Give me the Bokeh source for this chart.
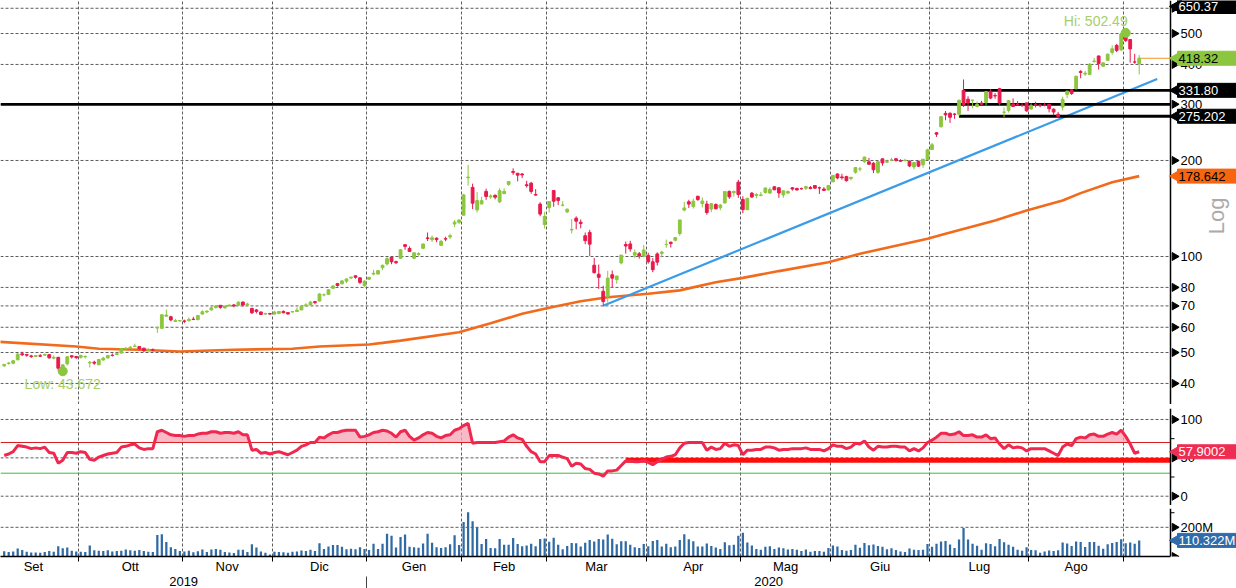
import numpy as np
import pandas as pd
from bokeh.plotting import figure
from bokeh.models import ColumnDataSource, FixedTicker, LinearAxis, Range1d, Grid
from bokeh.layouts import column
from bokeh.core.properties import value
from bokeh.embed import file_html
from bokeh.resources import INLINE

# ------------------------------------------------------------------ data
START = "2019-09-06"
HOLIDAYS = ["2019-09-02", "2019-11-28", "2019-12-25", "2020-01-01", "2020-01-20",
            "2020-02-17", "2020-04-10", "2020-05-25", "2020-07-03", "2020-09-07"]
MONTH_LABELS = ["Set", "Ott", "Nov", "Dic", "Gen", "Feb", "Mar", "Apr", "Mag", "Giu", "Lug", "Ago"]
YEAR_LABELS = ["2019", "2020"]

OPEN = [45.44, 46.20, 46.28, 47.44, 49.54, 49.31, 48.80, 48.59, 48.86, 49.07, 49.24, 48.00, 48.30, 44.91, 46.08, 48.84, 48.60,
        48.30, 48.46, 46.37, 46.64, 45.76, 47.36, 48.06, 49.00, 49.27, 49.80, 51.30, 51.70, 52.30, 52.20, 51.60, 50.80, 50.96, 59.67, 59.54, 65.00, 64.72, 62.60, 62.80,
        62.80, 62.90, 63.60, 63.40, 66.00, 67.00, 68.00, 69.20, 70.30, 69.00, 70.00, 70.50, 70.30, 72.00, 70.60, 68.80, 68.00, 67.00, 66.00, 66.30,
        66.00, 66.30, 67.30, 66.70, 67.00, 67.20, 68.00, 70.00, 70.50, 72.20, 72.50, 75.80, 76.10, 79.50, 82.20, 82.10, 83.67, 85.58, 87.00, 85.76, 81.00,
        84.90, 88.10, 88.09, 92.28, 94.74, 99.42, 96.36, 98.70, 108.85, 105.95, 98.75, 101.52, 106.05, 114.38, 112.85, 114.13, 108.40, 113.70, 115.14, 126.48, 128.00,
        134.74, 176.59, 164.65, 139.98, 146.11, 160.00, 153.76, 155.57, 148.37, 157.44, 168.32, 184.70, 182.39, 181.40, 167.80, 169.80, 156.50, 146.00, 125.94,
        142.25, 161.00, 152.79, 144.75, 138.00, 121.08, 131.89, 128.04, 116.18, 119.00, 93.90, 88.00, 77.80, 74.94, 87.64, 84.60, 95.46, 109.05, 109.48, 101.00, 102.05, 100.25,
        100.80, 96.21, 101.90, 102.24, 109.00, 110.84, 112.42, 118.03, 139.79, 148.40, 143.39, 154.46, 146.54, 146.02, 140.80, 145.52, 142.16, 147.16, 159.98, 158.40, 171.04,
        151.00, 140.20, 157.96, 155.30, 155.44, 158.75, 158.10, 165.40, 164.17, 156.00, 158.07, 164.18, 163.40, 163.17, 163.70, 164.43, 166.90, 164.17, 162.70, 161.75,
        171.60, 181.40, 177.62, 177.98, 175.57, 183.80, 188.00, 198.38, 198.04, 196.00, 183.56, 202.37, 197.54, 200.60, 202.56, 199.99, 199.78, 198.82, 190.85, 198.96, 193.80, 201.30,
        216.60, 244.30, 255.34, 281.00, 281.00, 279.40, 279.20, 331.80, 311.20, 308.60, 295.43, 302.69, 303.80, 327.99, 319.80, 335.79, 283.20, 287.00, 300.80, 300.20, 297.60, 303.00,
        289.84, 299.00, 298.60, 298.17, 299.91, 289.60, 279.20, 294.00, 322.20, 333.00, 335.40, 379.80, 373.00, 372.14, 408.95, 425.26, 394.98, 412.00, 436.09, 459.02, 444.61,
        502.14, 478.99, 407.23, 402.81]
HIGH = [45.93, 46.70, 47.30, 49.74, 50.30, 49.40, 49.20, 49.10, 49.45, 49.63, 49.38, 48.95, 48.48, 45.80, 48.64, 49.02, 48.80,
        49.19, 48.93, 47.05, 47.13, 47.78, 48.49, 49.20, 49.70, 50.00, 51.60, 52.00, 52.40, 53.30, 52.40, 51.70, 51.56, 51.50, 60.38, 66.00, 68.17, 65.16, 63.82, 63.20,
        63.40, 64.40, 64.70, 65.40, 67.80, 67.80, 69.80, 70.50, 70.40, 70.30, 70.60, 70.90, 72.40, 72.20, 71.60, 68.90, 68.50, 67.20, 66.60, 66.40,
        67.50, 67.40, 67.70, 66.80, 67.40, 69.30, 70.20, 71.40, 72.60, 72.60, 76.70, 76.60, 79.00, 81.40, 82.60, 84.40, 85.09, 86.20, 87.06, 85.80, 84.26,
        86.14, 90.80, 90.31, 94.33, 99.70, 99.76, 96.99, 105.13, 109.48, 107.57, 102.57, 103.13, 109.72, 118.90, 116.40, 114.77, 112.89, 115.36, 117.96, 130.18, 130.60,
        157.23, 193.80, 169.20, 159.17, 153.95, 163.20, 156.70, 156.50, 163.60, 163.60, 172.00, 188.96, 182.40, 182.61, 172.70, 171.32, 162.60, 147.95, 138.18,
        148.74, 161.40, 153.30, 149.15, 141.40, 131.20, 133.60, 130.72, 118.90, 121.20, 98.97, 94.37, 80.97, 90.15, 90.40, 86.95, 101.14, 111.40, 112.00, 105.16, 103.33, 108.59,
        102.79, 98.85, 103.10, 104.20, 113.00, 111.44, 115.04, 130.40, 148.38, 150.63, 151.89, 154.99, 153.11, 149.60, 146.80, 146.80, 146.15, 159.95, 161.00, 160.64, 173.96,
        154.60, 152.40, 159.28, 157.96, 159.28, 164.80, 164.80, 166.00, 165.20, 160.67, 161.01, 165.00, 164.46, 164.45, 166.44, 166.36, 166.92, 165.54, 164.95, 167.00,
        179.80, 182.33, 181.73, 179.15, 177.30, 190.00, 190.89, 205.50, 203.79, 197.60, 199.77, 202.58, 201.00, 203.84, 203.19, 201.78, 202.40, 200.18, 197.20, 199.00, 202.00, 217.54,
        227.07, 245.60, 275.56, 285.90, 283.45, 281.71, 309.78, 358.99, 318.00, 310.00, 306.34, 307.50, 330.00, 335.00, 325.28, 337.80, 293.00, 309.59, 312.94, 306.96, 302.65, 303.41,
        301.96, 305.48, 299.97, 303.46, 299.95, 291.50, 284.00, 317.00, 330.24, 333.76, 369.17, 384.00, 382.20, 404.40, 419.10, 425.80, 405.59, 433.20, 459.12, 463.70, 500.14,
        502.49, 479.04, 431.80, 428.00]
LOW = [45.03, 45.80, 45.90, 47.28, 48.80, 48.50, 48.10, 48.36, 48.43, 48.90, 47.80, 47.64, 43.84, 43.67, 45.51, 47.88, 47.78,
       47.86, 47.90, 44.87, 45.74, 45.65, 47.23, 47.90, 48.60, 49.10, 49.70, 50.80, 51.40, 52.00, 51.00, 50.20, 50.40, 50.50, 57.62, 59.40, 64.80, 62.66, 62.52, 62.50,
       61.80, 62.60, 63.20, 63.10, 65.70, 66.50, 67.80, 68.60, 68.60, 68.70, 69.80, 69.30, 70.00, 69.60, 70.00, 66.00, 66.30, 65.50, 65.70, 65.70,
       65.80, 65.90, 66.40, 65.60, 66.80, 67.00, 67.90, 69.60, 70.30, 70.80, 72.40, 75.00, 76.00, 79.30, 80.50, 81.70, 82.54, 85.27, 85.22, 81.85, 80.42,
       84.34, 87.38, 88.00, 90.67, 93.65, 94.57, 94.74, 98.40, 104.98, 103.36, 98.07, 100.63, 105.68, 111.82, 111.12, 110.85, 107.86, 111.62, 113.49, 123.60, 126.50,
       134.70, 166.78, 140.82, 137.40, 146.00, 150.48, 151.60, 151.00, 147.00, 156.74, 166.47, 180.20, 171.98, 176.09, 164.44, 157.40, 155.20, 133.80, 122.30,
       137.33, 143.22, 144.95, 143.61, 136.85, 118.10, 121.60, 122.60, 109.25, 100.40, 88.43, 79.20, 70.10, 71.69, 80.20, 82.10, 94.46, 102.10, 103.49, 98.81, 98.40, 99.40,
       95.02, 89.28, 93.68, 99.59, 106.47, 106.67, 111.42, 116.10, 138.49, 142.00, 141.34, 149.53, 142.44, 135.20, 137.74, 140.63, 139.58, 146.72, 151.61, 154.27, 152.70,
       136.61, 139.60, 152.52, 152.22, 154.40, 157.40, 157.00, 161.32, 152.66, 152.80, 157.31, 160.91, 161.22, 162.05, 161.50, 162.40, 163.20, 157.00, 160.34, 160.84,
       170.82, 174.60, 174.20, 171.69, 173.24, 181.83, 184.79, 196.50, 194.40, 182.52, 181.70, 192.48, 196.51, 198.89, 198.27, 198.00, 198.80, 190.63, 187.43, 190.97, 189.70, 200.75,
       216.10, 237.12, 253.21, 267.34, 262.27, 270.26, 275.20, 294.22, 286.20, 291.40, 293.20, 298.00, 297.60, 311.60, 312.40, 296.15, 273.31, 282.60, 294.88, 297.40, 294.20, 284.20,
       288.88, 293.20, 293.66, 295.45, 283.00, 277.17, 273.00, 287.00, 313.45, 321.00, 334.57, 362.02, 368.24, 371.41, 405.01, 385.50, 393.60, 410.73, 428.50, 437.30, 440.11,
       470.51, 405.12, 402.00, 372.02]
CLOSE = [45.92, 46.36, 47.11, 49.42, 49.17, 49.04, 48.56, 48.96, 48.70, 49.32, 48.12, 48.25, 44.64, 45.74, 48.51, 48.43, 48.17,
         48.94, 48.63, 46.61, 46.29, 47.54, 48.01, 48.91, 48.95, 49.58, 51.39, 51.58, 51.95, 52.39, 51.39, 50.70, 51.12, 50.94, 59.94, 65.63, 65.54, 63.24, 63.00, 62.98,
         62.66, 63.49, 63.44, 65.32, 67.11, 67.43, 69.02, 69.99, 69.22, 69.87, 70.43, 70.00, 71.90, 70.44, 70.97, 66.61, 67.27, 65.78, 66.26, 65.99,
         66.97, 67.24, 66.61, 66.07, 67.18, 67.91, 69.77, 70.54, 71.94, 71.68, 76.30, 75.80, 78.63, 80.81, 81.12, 83.84, 85.05, 86.19, 86.08, 82.94, 83.67,
         86.05, 88.60, 90.31, 93.81, 98.43, 96.27, 95.63, 104.97, 107.58, 103.70, 102.70, 102.10, 109.44, 113.91, 114.44, 112.96, 111.60, 113.38, 116.20, 128.16, 130.11,
         156.00, 177.41, 146.94, 149.79, 149.61, 154.26, 154.88, 153.46, 160.80, 160.01, 171.68, 183.48, 179.88, 180.20, 166.76, 159.98, 155.76, 135.80, 133.60,
         148.72, 149.10, 149.90, 144.91, 140.70, 121.60, 129.07, 126.85, 112.11, 109.32, 89.01, 86.04, 72.24, 85.53, 85.51, 86.86, 101.00, 107.85, 105.63, 102.87, 100.43, 104.80,
         96.31, 90.89, 96.00, 103.25, 109.09, 109.77, 114.60, 130.19, 141.98, 145.97, 149.04, 150.78, 149.27, 137.34, 146.42, 141.13, 145.03, 159.75, 153.82, 160.10, 156.38,
         140.26, 152.24, 153.64, 156.52, 156.01, 163.88, 162.26, 161.88, 158.19, 160.67, 159.83, 162.73, 161.60, 163.11, 165.52, 163.38, 163.77, 164.05, 161.16, 167.00,
         179.62, 176.31, 176.59, 172.88, 177.13, 189.98, 188.13, 205.01, 194.57, 187.06, 198.18, 196.43, 198.36, 200.79, 200.18, 198.86, 200.36, 192.17, 197.20, 191.95, 201.87, 215.96,
         223.93, 241.73, 274.32, 277.97, 273.18, 278.86, 308.93, 299.41, 303.36, 309.20, 300.13, 300.17, 328.60, 313.67, 318.47, 302.61, 283.40, 307.92, 295.30, 299.82, 297.50, 286.15,
         297.00, 297.40, 297.00, 297.92, 290.54, 283.71, 274.88, 310.95, 330.14, 324.20, 367.13, 377.42, 375.71, 400.37, 410.00, 402.84, 404.67, 430.63, 447.75, 442.68, 498.32,
         475.05, 447.37, 407.00, 418.32]
VOLUME_M = [36, 30, 34, 55, 44, 32, 27, 27, 26, 30, 38, 33, 70, 56, 62, 40, 35,
            32, 30, 76, 43, 40, 38, 42, 34, 38, 40, 48, 42, 40, 45, 38, 32, 30, 147, 152, 100, 63, 51, 38,
            34, 40, 29, 36, 48, 30, 48, 52, 46, 30, 27, 24, 47, 46, 31, 84, 61, 35, 25, 14,
            33, 30, 29, 25, 32, 35, 41, 38, 47, 38, 91, 52, 68, 78, 78, 66, 50, 53, 50, 64, 52,
            45, 88, 52, 88, 156, 142, 62, 133, 151, 66, 63, 60, 89, 156, 95, 63, 59, 63, 84, 145, 79,
            236, 304, 242, 200, 85, 120, 59, 57, 120, 80, 80, 126, 85, 70, 75, 88, 70, 120, 123,
            101, 129, 80, 50, 72, 92, 90, 68, 94, 113, 102, 120, 117, 151, 122, 84, 105, 105, 81, 63, 59, 85,
            71, 106, 113, 68, 87, 64, 69, 113, 153, 118, 104, 69, 68, 89, 72, 62, 51, 98, 77, 81, 142,
            163, 96, 75, 52, 47, 67, 70, 52, 62, 56, 48, 52, 46, 37, 48, 32, 37, 37, 33, 59,
            75, 68, 45, 40, 44, 81, 60, 93, 77, 83, 72, 66, 49, 56, 45, 34, 30, 54, 46, 44, 46, 85,
            67, 87, 103, 107, 82, 59, 117, 195, 117, 88, 74, 47, 91, 85, 71, 120, 97, 80, 66, 47, 40, 64,
            44, 42, 25, 34, 41, 38, 43, 96, 89, 72, 103, 100, 65, 100, 100, 73, 53, 84, 93, 100, 118,
            90, 96, 88, 110.322]
RSI = [53, 55, 58, 66, 65, 64, 62, 63, 62, 64, 57, 56, 43, 47, 57, 57, 56,
       58, 57, 48, 47, 51, 53, 55, 56, 57, 64, 65, 67, 68, 63, 61, 62, 62, 84, 86, 83, 80, 79, 79,
       78, 79, 79, 81, 82, 82, 84, 84, 82, 83, 83, 82, 84, 80, 80, 60, 61, 56, 57, 55,
       57, 58, 56, 54, 57, 60, 65, 67, 70, 70, 77, 76, 80, 83, 83, 85, 86, 86, 86, 77, 78,
       80, 83, 84, 86, 85, 82, 77, 84, 86, 78, 73, 76, 80, 83, 82, 78, 76, 79, 80, 86, 88,
       92, 95, 69, 70, 70, 70, 70, 70, 71, 72, 77, 80, 76, 74, 65, 58, 55, 45, 45,
       53, 53, 53, 51, 49, 39, 43, 42, 36, 35, 30, 29, 26, 33, 33, 34, 40, 46, 46, 45, 45, 47,
       44, 41, 45, 48, 51, 52, 54, 63, 69, 70, 70, 70, 70, 60, 64, 61, 62, 69, 65, 67, 66,
       54, 60, 60, 61, 61, 64, 64, 63, 60, 61, 61, 62, 62, 62, 63, 61, 61, 61, 59, 62,
       67, 65, 65, 62, 64, 69, 68, 72, 64, 60, 65, 64, 64, 65, 65, 64, 64, 59, 62, 59, 63, 70,
       73, 77, 82, 82, 80, 81, 84, 79, 79, 80, 77, 77, 80, 75, 76, 68, 62, 67, 63, 64, 63, 59,
       62, 62, 62, 62, 59, 56, 53, 64, 68, 66, 75, 77, 76, 80, 81, 78, 78, 81, 83, 81, 86,
       78, 68, 56, 57.9002]
MA200_DATES = ["2019-09-05", "2019-09-30", "2019-10-07", "2019-10-18", "2019-10-31", "2019-11-18", "2019-12-06",
               "2019-12-16", "2020-01-02", "2020-01-07", "2020-01-13", "2020-01-31", "2020-02-11", "2020-02-21",
               "2020-03-02", "2020-03-11", "2020-03-19", "2020-04-01", "2020-04-13", "2020-04-23", "2020-05-01",
               "2020-05-13", "2020-05-29", "2020-06-09", "2020-06-30", "2020-07-07", "2020-07-22", "2020-07-31",
               "2020-08-12", "2020-08-18", "2020-08-27", "2020-09-04"]
MA200 = [54.0, 52.2, 51.4, 51.0, 50.4, 51.0, 51.4, 52.2, 53.0, 53.6, 54.5, 57.9, 61.8, 66.1, 69.1, 72.4,
         74.5, 76.4, 78.3, 83.0, 85.7, 90.0, 95.9, 102.0, 113.6, 117.8, 129.7, 139.4, 149.8, 158.0, 171.0, 178.642]
PRICE_TICKS = [40, 50, 60, 70, 80, 100, 200, 300, 400, 500, 600]
RSI_TICKS = [0, 50, 100]
RSI_MINOR = [25, 75]
VOL_TICKS = [0, 200]
VOL_TICK_LABELS = ["", "200M"]
VOL_MINOR = [100, 300]
LEVEL_FULL = 300.0
LEVELS_PART = [("2020-07-13", 331.80), ("2020-07-10", 275.202)]
TREND_DATES = ["2020-03-18", "2020-09-11"]
TREND_VALUES = [70.10, 360.0]
RSI_LEVEL_DATE, RSI_LEVEL = "2020-03-25", 47.0
RSI_HIGH, RSI_LOW = 70, 30
HI_DATE, HI_VAL = "2020-09-01", 502.49
LO_DATE, LO_VAL = "2019-09-25", 43.672
TOP_LEVEL = "650.37"

# ------------------------------------------------------------------ calendar / x scale
cal = [d for d in pd.bdate_range("2019-09-01", "2020-09-30") if d.strftime("%Y-%m-%d") not in HOLIDAYS]
pos = {d.strftime("%Y-%m-%d"): k for k, d in enumerate(cal)}
OFF = pos[START]


def xi(s):
    return pos[s] - OFF


N = len(CLOSE)
xs = np.arange(N)
XL, XA = -0.82, 258.95          # left edge of plot and position of the value axis
PX = (XA - XL) / 1170.0         # one screen pixel in x units
XF = XL + 1236 * PX             # right edge of the canvas
xr = Range1d(XL, XF)

bounds = [k - OFF - 0.5 for k in range(1, len(cal)) if cal[k].month != cal[k - 1].month]
vis_bounds = [b for b in bounds if XL < b < XA]
edges = [-OFF - 0.5] + bounds
month_centers = [(edges[j] + edges[j + 1]) / 2 for j in range(len(MONTH_LABELS))]
jan_b = [k - OFF - 0.5 for k in range(1, len(cal)) if cal[k].year != cal[k - 1].year][0]
year_centers = [(XL + jan_b) / 2, (jan_b + XA) / 2]

# ------------------------------------------------------------------ style
FONT = "Liberation Sans"
UP, DOWN = "#8cc63f", "#e8194b"
GRID = "#5c5c5c"
ORANGE = "#f26a1b"
BLUE_T = "#3a9be8"
VOLC = "#2f6aa5"


def make_fig(height, y_range, y_axis_type="linear", below=False):
    f = figure(width=1236, height=height, x_range=xr, y_range=y_range, y_axis_type=y_axis_type,
               output_backend="svg", toolbar_location=None, y_axis_location=None,
               x_axis_location="below" if below else None,
               min_border_left=0, min_border_right=0, min_border_top=0, min_border_bottom=0)
    f.outline_line_color = None
    for g in f.grid:
        g.visible = False
    f.add_layout(Grid(dimension=0, ticker=FixedTicker(ticks=vis_bounds), grid_line_color=GRID,
                      grid_line_dash="3 2", grid_line_width=1))
    return f


def hgrid(f, ticks):
    n = len(ticks)
    f.segment(x0=[XL] * n, y0=ticks, x1=[XA] * n, y1=ticks, line_color=GRID, line_dash="3 2", line_width=1)


def value_axis(f, lo, hi, ticks, labels, minor=()):
    n = len(ticks)
    f.segment(x0=[XA], y0=[lo], x1=[XA], y1=[hi], line_color="black", line_width=1.5)
    f.scatter(x=[XA + 4 * PX] * n, y=ticks, marker="triangle", angle=-np.pi / 2, size=8,
              fill_color="black", line_color="black")
    if len(minor):
        f.segment(x0=[XA] * len(minor), y0=list(minor), x1=[XA + 4 * PX] * len(minor), y1=list(minor),
                  line_color="black", line_width=1)
    f.text(x=[XA] * n, y=ticks, text=labels, x_offset=10, anchor="center_left",
           text_font=value(FONT), text_font_size="13px", text_color="black")


def callout(f, y, text, fill, tcolor):
    f.scatter(x=[XA + 7 * PX], y=[y], marker="triangle", angle=np.pi / 2, size=14,
              fill_color=fill, line_color=fill)
    f.rect(x=[(XA + 7 * PX + XF) / 2], y=[y], width=[XF - XA - 7 * PX], height=14, height_units="screen",
           fill_color=fill, line_color=fill)
    f.text(x=[XA], y=[y], text=[text], x_offset=8, anchor="center_left",
           text_font=value(FONT), text_font_size="13px", text_color=tcolor)


# ------------------------------------------------------------------ price panel
PLO, PHI = 34.36, 634.6
P_HEIGHT = 404
LOGPX = P_HEIGHT / np.log10(PHI / PLO)      # pixels per decade on the price axis
p = make_fig(P_HEIGHT, Range1d(PLO, PHI), y_axis_type="log")
hgrid(p, PRICE_TICKS)

o, h, l, c = (np.array(a, dtype=float) for a in (OPEN, HIGH, LOW, CLOSE))
col = np.where(c >= o, UP, DOWN)
src = ColumnDataSource(dict(x=xs, h=h, l=l, top=np.maximum(o, c), bot=np.minimum(o, c), col=col))

p.line([xi(d) for d in MA200_DATES], MA200, line_color=ORANGE, line_width=2.6)
p.line([xi(d) for d in TREND_DATES], TREND_VALUES, line_color=BLUE_T, line_width=2.2)
p.segment(x0=[XL], y0=[LEVEL_FULL], x1=[XA], y1=[LEVEL_FULL], line_color="black", line_width=2.8)
p.segment(x0=[xi(d) for d, _ in LEVELS_PART], y0=[v for _, v in LEVELS_PART],
          x1=[XA] * len(LEVELS_PART), y1=[v for _, v in LEVELS_PART], line_color="black", line_width=2.8)
p.segment(x0=[N - 1], y0=[CLOSE[-1]], x1=[XA], y1=[CLOSE[-1]], line_color="#f7941d", line_width=1.2)

p.segment(x0="x", y0="l", x1="x", y1="h", line_color="col", line_width=1, source=src)
p.vbar(x="x", width=0.62, top="top", bottom="bot", fill_color="col", line_color="col", line_width=1, source=src)

p.scatter([xi(HI_DATE)], [HI_VAL], size=9, color=UP)
p.scatter([xi(LO_DATE)], [LO_VAL], size=9, color=UP)
p.text(x=[xi(HI_DATE)], y=[HI_VAL], text=[f"Hi: {HI_VAL}"], anchor="bottom_right", x_offset=2, y_offset=-4,
       text_font=value(FONT), text_font_size="14px", text_color="#a6cf6a")
p.text(x=[xi(LO_DATE)], y=[LO_VAL], text=[f"Low: {LO_VAL}"], anchor="top_center", y_offset=5,
       text_font=value(FONT), text_font_size="14px", text_color="#a6cf6a")

value_axis(p, PLO, PHI, PRICE_TICKS, [str(t) for t in PRICE_TICKS])
p.text(x=[XA + 46 * PX], y=[134.0], text=["Log"], angle=np.pi / 2, anchor="center",
       text_font=value(FONT), text_font_size="22px", text_color="#ababab")
# the 650.37 level lies above the visible range: its tag is pinned just inside the top edge
top_shown = min(float(TOP_LEVEL), PHI / 10 ** (6 / LOGPX))
callout(p, top_shown, TOP_LEVEL, "#000000", "white")
callout(p, CLOSE[-1], f"{CLOSE[-1]:.2f}", "#8cc63f", "black")
callout(p, LEVELS_PART[0][1], f"{LEVELS_PART[0][1]:.2f}", "#000000", "white")
callout(p, LEVELS_PART[1][1], f"{LEVELS_PART[1][1]}", "#000000", "white")
callout(p, MA200[-1], f"{MA200[-1]}", "#f7650e", "black")


# ------------------------------------------------------------------ separators
def separator(height):
    s = figure(width=1236, height=height, x_range=Range1d(0, 1236), y_range=Range1d(0, height),
               output_backend="svg", toolbar_location=None, x_axis_location=None, y_axis_location=None,
               min_border_left=0, min_border_right=0, min_border_top=0, min_border_bottom=0,
               background_fill_color="#3e3e3e", border_fill_color="#3e3e3e")
    s.outline_line_color = None
    for g in s.grid:
        g.visible = False
    s.segment(x0=[610, 610], y0=[height * 0.35, height * 0.7], x1=[626, 626], y1=[height * 0.35, height * 0.7],
              line_color="#9a9a9a", line_width=1)
    return s


# ------------------------------------------------------------------ RSI panel
RLO, RHI = -12.1, 114.3
r = make_fig(97, Range1d(RLO, RHI))
hgrid(r, RSI_TICKS)
rsi = np.array(RSI, dtype=float)
r.varea(x=xs, y1=RSI_HIGH, y2=np.maximum(rsi, RSI_HIGH), fill_color="#f5a3b3", fill_alpha=0.75)
r.varea(x=xs, y1=np.minimum(rsi, RSI_LOW), y2=RSI_LOW, fill_color="#86b85a", fill_alpha=0.8)
r.segment(x0=[XL], y0=[RSI_HIGH], x1=[XA], y1=[RSI_HIGH], line_color="#d81e1e", line_width=1)
r.segment(x0=[XL], y0=[RSI_LOW], x1=[XA], y1=[RSI_LOW], line_color="#3dbb3d", line_width=1)
r.segment(x0=[xi(RSI_LEVEL_DATE)], y0=[RSI_LEVEL], x1=[XA], y1=[RSI_LEVEL], line_color="#ff0d0d", line_width=5)
r.line(xs, rsi, line_color="#f0284f", line_width=3)
value_axis(r, RLO, RHI, RSI_TICKS, [str(t) for t in RSI_TICKS], RSI_MINOR)
callout(r, RSI[-1], f"{RSI[-1]}", "#ef2d52", "white")

# ------------------------------------------------------------------ volume panel
VLO, VHI = 0, 329
v = make_fig(80, Range1d(VLO, VHI), below=True)
hgrid(v, VOL_TICKS)
v.vbar(x=xs, top=VOLUME_M, width=0.5, fill_color=VOLC, line_color=None)
value_axis(v, VLO, VHI, VOL_TICKS, VOL_TICK_LABELS, VOL_MINOR)
callout(v, VOLUME_M[-1], f"{VOLUME_M[-1]}M", "#2f6caa", "white")

mx = v.xaxis[0]
mx.bounds = (XL, XA)
mx.ticker = FixedTicker(ticks=month_centers, minor_ticks=vis_bounds)
mx.major_label_overrides = {m: lab for m, lab in zip(month_centers, MONTH_LABELS)}
mx.major_tick_out = 0
mx.major_tick_in = 0
mx.minor_tick_out = 5
mx.minor_tick_in = 0
mx.minor_tick_line_color = "black"
mx.axis_line_color = "black"
mx.axis_line_width = 1.5
mx.major_label_standoff = -3
mx.major_label_text_font = FONT
mx.major_label_text_font_size = "13px"
mx.major_label_text_color = "black"

yx = LinearAxis(ticker=FixedTicker(ticks=year_centers, minor_ticks=[jan_b]),
                major_label_overrides={y: lab for y, lab in zip(year_centers, YEAR_LABELS)},
                axis_line_color=None, major_tick_out=0, major_tick_in=0, major_tick_line_color=None,
                minor_tick_out=16, minor_tick_in=0, minor_tick_line_color="#444444",
                major_label_standoff=-16, major_label_text_font=FONT, major_label_text_font_size="13px",
                major_label_text_color="black")
v.add_layout(yx, "below")

layout = column(p, separator(4), r, separator(3), v, spacing=0)
open("out.html", "w").write(file_html(layout, INLINE))
